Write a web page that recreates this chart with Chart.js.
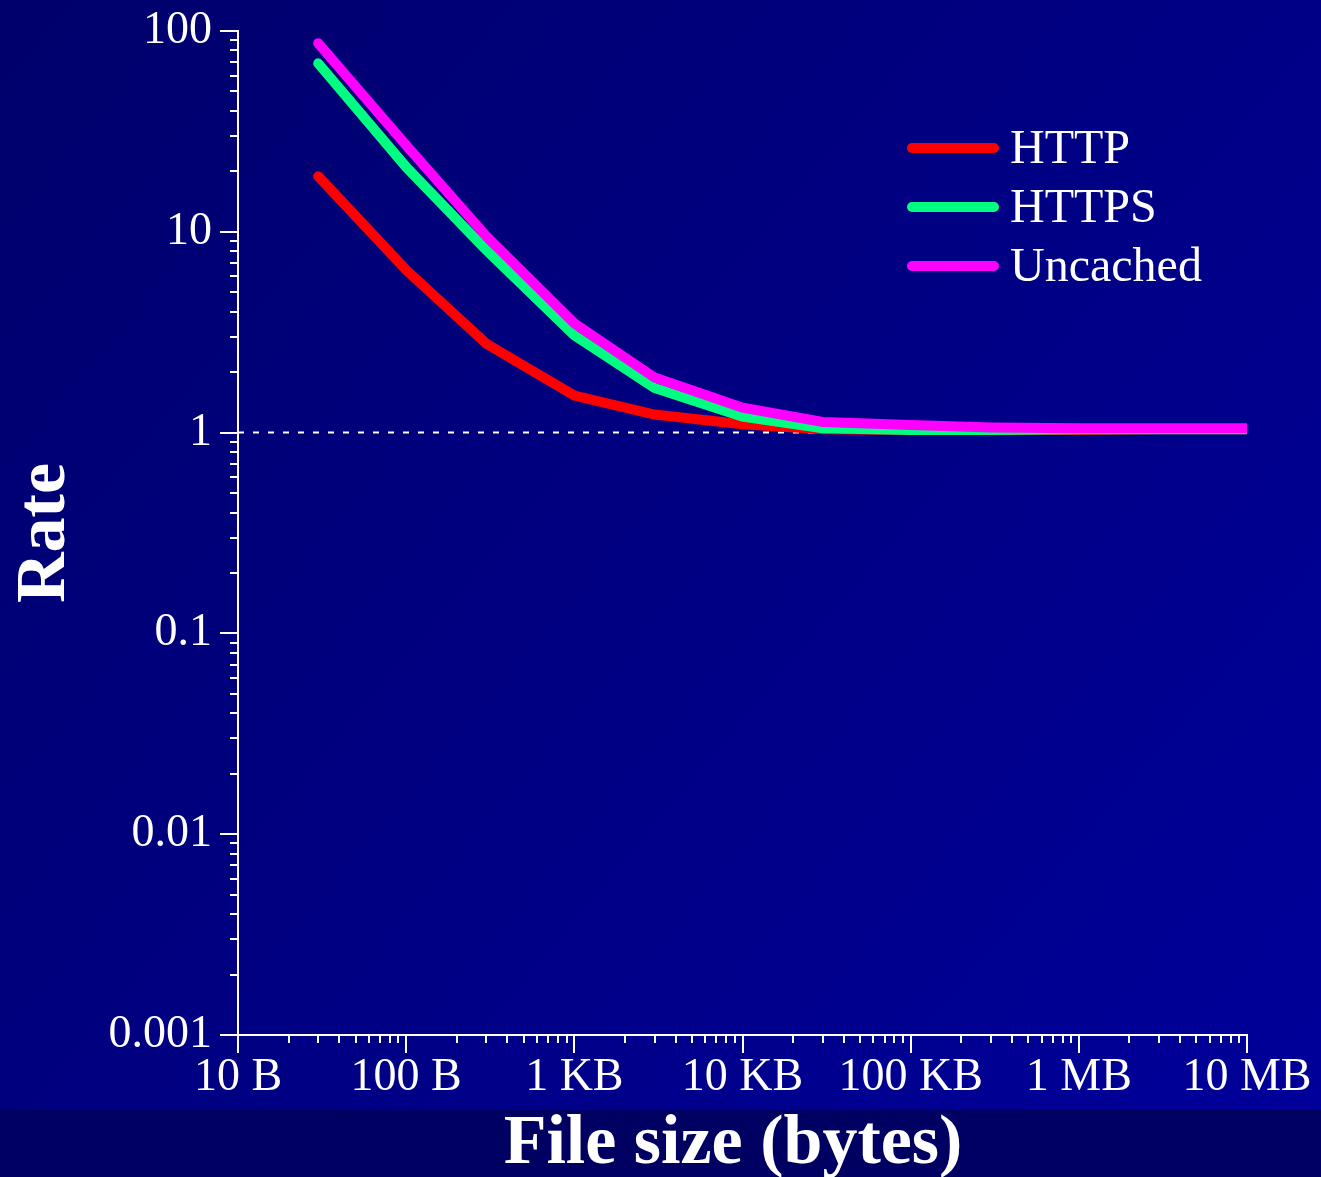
<!DOCTYPE html>
<html><head><meta charset="utf-8">
<script src="https://cdn.jsdelivr.net/npm/chart.js@4"></script>
<style>html,body{margin:0;padding:0;background:#000070;overflow:hidden}canvas{display:block}</style>
</head><body>
<canvas id="c" width="1321" height="1177"></canvas>
<script>
// ---- data ----
const fileSizes    = [30, 100, 300, 1000, 3000, 10000, 30000, 100000, 300000, 1000000, 3000000, 10000000];
const httpRate     = [18.9, 6.45, 2.77, 1.53, 1.23, 1.10, 1.04, 1.03, 1.03, 1.03, 1.04, 1.04];
const httpsRate    = [69, 21, 8.1, 3.05, 1.67, 1.20, 1.05, 1.03, 1.03, 1.04, 1.04, 1.04];
const uncachedRate = [87, 27, 9.5, 3.5, 1.88, 1.33, 1.13, 1.09, 1.06, 1.05, 1.05, 1.05];
const seriesLabels = ['HTTP', 'HTTPS', 'Uncached'];
const seriesColors = ['#ff0000', '#00ff80', '#ff00ff'];
const refLineX = [10, 10000000];
const refLineY = [1, 1];
const xTickValues = [10, 100, 1000, 10000, 100000, 1000000, 10000000];
const xTickLabels = ['10 B', '100 B', '1 KB', '10 KB', '100 KB', '1 MB', '10 MB'];
const yTickValues = [0.001, 0.01, 0.1, 1, 10, 100];
const yTickLabels = ['0.001', '0.01', '0.1', '1', '10', '100'];
const xTitle = 'File size (bytes)';
const yTitle = 'Rate';

const FONT = "'Liberation Serif', 'Times New Roman', serif";
const toPoints = (xs, ys) => xs.map((x, i) => ({x: x, y: ys[i]}));
const isMajor = v => Math.abs(Math.log10(v) - Math.round(Math.log10(v))) < 1e-9;
function labelFor(values, labels, v) {
  const i = values.findIndex(t => Math.abs(t - v) / t < 1e-6);
  return i >= 0 ? labels[i] : '';
}
function logTicks(minExp, maxExp) {
  const out = [];
  for (let e = minExp; e <= maxExp; e++) {
    for (let m = 1; m <= 9; m++) {
      if (e === maxExp && m > 1) break;
      out.push({value: Number((m * Math.pow(10, e)).toPrecision(3))});
    }
  }
  return out;
}

const bgPlugin = {
  id: 'bg',
  beforeDraw(chart) {
    const {ctx, width, height} = chart;
    ctx.save();
    const g = ctx.createLinearGradient(0, 0, width, 1110);
    g.addColorStop(0, '#00006c');
    g.addColorStop(1, '#00009a');
    ctx.fillStyle = g;
    ctx.fillRect(0, 0, width, 1110);
    ctx.fillStyle = '#000062';
    ctx.fillRect(0, 1110, width, height - 1110);
    ctx.restore();
  }
};

const tickPlugin = {
  id: 'tickMarks',
  afterDraw(chart) {
    const {ctx} = chart;
    const xs = chart.scales.x, ys = chart.scales.y;
    ctx.save();
    ctx.strokeStyle = '#ffffff';
    ctx.lineWidth = 2;
    ctx.beginPath();
    xs.ticks.forEach(t => {
      const px = Math.round(xs.getPixelForValue(t.value));
      const len = isMajor(t.value) ? 18 : 8;
      ctx.moveTo(px, xs.top); ctx.lineTo(px, xs.top + len);
    });
    ys.ticks.forEach(t => {
      const py = Math.round(ys.getPixelForValue(t.value));
      const len = isMajor(t.value) ? 18 : 8;
      ctx.moveTo(ys.right, py); ctx.lineTo(ys.right - len, py);
    });
    ctx.stroke();
    // axis titles
    ctx.fillStyle = '#ffffff';
    ctx.font = 'bold 70px ' + FONT;
    ctx.textAlign = 'center';
    ctx.textBaseline = 'alphabetic';
    ctx.fillText(xTitle, 733, 1163);
    ctx.translate(64, (ys.top + ys.bottom) / 2);
    ctx.rotate(-Math.PI / 2);
    ctx.fillText(yTitle, 0, 0);
    ctx.restore();
  }
};

const legendPlugin = {
  id: 'customLegend',
  afterDraw(chart) {
    const {ctx} = chart;
    ctx.save();
    ctx.font = '48px ' + FONT;
    ctx.textBaseline = 'middle';
    ctx.textAlign = 'left';
    seriesLabels.forEach((lab, i) => {
      const y = 148 + i * 59;
      ctx.strokeStyle = seriesColors[i];
      ctx.lineWidth = 10;
      ctx.lineCap = 'round';
      ctx.beginPath();
      ctx.moveTo(912, y); ctx.lineTo(994, y);
      ctx.stroke();
      ctx.fillStyle = '#ffffff';
      ctx.fillText(lab, 1010, y + 2);
    });
    ctx.restore();
  }
};

const lineDs = (i, ys, order) => ({
  label: seriesLabels[i],
  data: toPoints(fileSizes, ys),
  borderColor: seriesColors[i],
  backgroundColor: seriesColors[i],
  borderWidth: 10,
  borderCapStyle: 'round',
  borderJoinStyle: 'miter',
  pointRadius: 0,
  tension: 0,
  order: order
});

new Chart(document.getElementById('c'), {
  type: 'line',
  data: {
    datasets: [
      {
        label: 'ref',
        data: toPoints(refLineX, refLineY),
        borderColor: '#ffffff',
        borderWidth: 2,
        borderDash: [6, 9],
        pointRadius: 0,
        order: 3
      },
      lineDs(0, httpRate, 2),
      lineDs(1, httpsRate, 1),
      lineDs(2, uncachedRate, 0)
    ]
  },
  options: {
    responsive: false,
    animation: false,
    devicePixelRatio: 1,
    layout: {padding: {left: 0, right: 74, top: 29, bottom: 0}},
    plugins: {legend: {display: false}, tooltip: {enabled: false}},
    scales: {
      x: {
        type: 'logarithmic',
        min: 10, max: 10000000,
        afterBuildTicks: s => { s.ticks = logTicks(1, 7); },
        afterFit: s => { s.height = 142; },
        grid: {display: false, drawTicks: true, tickLength: 18},
        border: {display: true, color: '#ffffff', width: 2},
        ticks: {
          autoSkip: false, maxRotation: 0, minRotation: 0, padding: 2,
          color: '#ffffff', font: {family: FONT, size: 46, lineHeight: 1},
          callback: v => labelFor(xTickValues, xTickLabels, v)
        },
        title: {display: false}
      },
      y: {
        type: 'logarithmic',
        min: 0.001, max: 100,
        afterBuildTicks: s => { s.ticks = logTicks(-3, 2); },
        afterFit: s => { s.width = 238; },
        grid: {display: false, drawTicks: true, tickLength: 18},
        border: {display: true, color: '#ffffff', width: 2},
        ticks: {
          autoSkip: false, padding: 8,
          color: '#ffffff', font: {family: FONT, size: 46, lineHeight: 1},
          callback: v => labelFor(yTickValues, yTickLabels, v)
        },
        title: {display: false}
      }
    }
  },
  plugins: [bgPlugin, tickPlugin, legendPlugin]
});
</script>
</body></html>
